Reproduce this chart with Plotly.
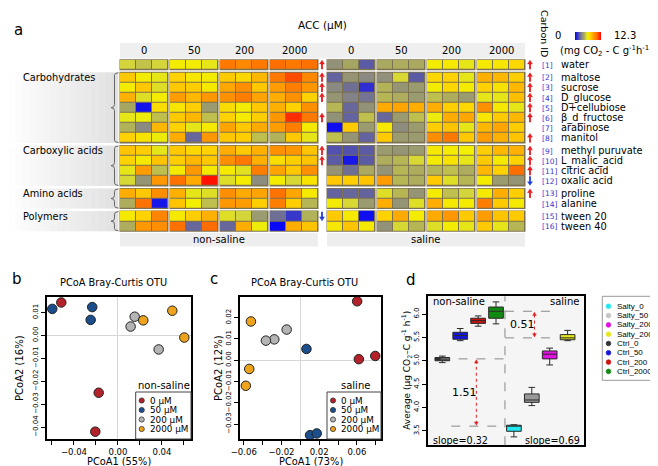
import plotly.graph_objects as go

W, H = 658, 466

# ---------------- data ----------------
acc_levels = ["0", "50", "200", "2000"]
carbon_sources = ["water", "maltose", "sucrose", "D_glucose", "D+cellubiose", "β_d_fructose",
                  "arabinose", "manitol", "methyl puruvate", "L_malic_acid", "citric acid",
                  "oxalic acid", "proline", "alanine", "tween 20", "tween 40"]
source_groups = ["", "Carbohydrates", "Carboxylic acids", "Amino acids", "Polymers"]
group_sizes = [1, 7, 4, 2, 2]

# respiration per carbon source, 4 ACC levels x 3 replicates
nonsaline = [
    [5.3, 4.9, 5.3, 6.3, 6.3, 5.8, 10.0, 9.5, 10.0, 10.3, 10.0, 10.2],
    [7.5, 6.3, 5.8, 7.2, 6.5, 6.3, 7.4, 7.0, 8.0, 10.0, 11.0, 9.5],
    [6.3, 7.5, 5.6, 7.5, 7.3, 6.4, 8.5, 9.3, 7.5, 8.8, 9.8, 9.0],
    [8.2, 5.6, 6.3, 8.8, 8.0, 9.0, 9.2, 9.8, 8.6, 8.3, 9.2, 7.2],
    [4.2, 0.4, 6.8, 6.5, 7.3, 3.8, 6.8, 6.3, 7.5, 8.2, 7.2, 9.2],
    [5.8, 6.0, 4.8, 7.4, 8.0, 4.8, 7.2, 6.3, 7.3, 9.0, 11.5, 10.0],
    [4.5, 3.2, 8.0, 7.2, 5.8, 6.4, 8.6, 7.5, 8.4, 8.8, 9.8, 6.4],
    [7.2, 6.6, 6.0, 8.3, 2.3, 9.0, 7.5, 7.3, 4.8, 4.5, 7.5, 5.8],
    [7.6, 7.3, 5.8, 7.5, 7.0, 7.2, 8.3, 7.5, 8.2, 9.2, 9.0, 7.6],
    [7.2, 6.4, 7.6, 7.3, 8.0, 7.5, 9.3, 10.0, 8.2, 6.8, 7.3, 7.6],
    [5.8, 8.8, 4.8, 6.4, 9.0, 6.4, 6.4, 5.7, 9.8, 8.6, 7.5, 9.2],
    [5.4, 3.6, 9.0, 10.2, 8.4, 12.0, 5.6, 6.3, 3.3, 6.3, 5.4, 6.6],
    [8.3, 7.5, 9.3, 8.2, 5.8, 5.6, 9.3, 8.4, 8.6, 10.2, 8.5, 6.4],
    [4.4, 10.2, 0.5, 7.6, 6.2, 4.8, 9.0, 8.8, 7.3, 9.8, 7.3, 4.6],
    [6.4, 7.2, 9.6, 6.4, 7.3, 8.2, 5.6, 5.3, 3.8, 2.5, 1.2, 4.5],
    [4.4, 9.0, 9.3, 10.2, 2.3, 10.4, 2.3, 8.3, 6.0, 0.2, 8.3, 7.6],
]
saline = [
    [3.5, 4.2, 2.0, 4.3, 4.4, 4.3, 6.3, 6.4, 5.8, 6.4, 6.5, 7.0],
    [2.2, 3.6, 3.2, 3.4, 5.4, 2.0, 7.0, 7.2, 5.8, 8.2, 8.0, 7.3],
    [3.2, 2.5, 1.0, 4.5, 3.6, 3.8, 6.3, 7.0, 6.3, 7.2, 6.6, 8.0],
    [3.6, 3.0, 2.6, 4.6, 4.4, 3.8, 4.8, 4.4, 3.8, 5.8, 5.8, 7.8],
    [4.6, 2.3, 3.5, 8.4, 8.6, 8.3, 8.3, 7.3, 7.0, 9.2, 6.4, 5.8],
    [3.5, 2.2, 4.8, 2.3, 3.8, 4.8, 6.0, 8.3, 8.5, 6.5, 7.4, 8.0],
    [0.3, 7.4, 3.8, 6.4, 3.3, 3.8, 7.3, 7.6, 5.8, 8.0, 8.5, 7.3],
    [4.8, 3.6, 2.2, 7.4, 3.8, 3.8, 9.3, 10.0, 7.5, 8.8, 8.2, 7.6],
    [1.8, 1.8, 2.0, 3.8, 3.6, 3.8, 6.4, 6.3, 6.2, 7.3, 8.0, 8.2],
    [2.0, 0.5, 2.0, 4.4, 4.6, 5.4, 6.3, 6.6, 5.8, 7.4, 6.4, 7.2],
    [3.6, 2.5, 4.3, 3.6, 4.6, 4.4, 4.6, 4.8, 4.4, 8.0, 7.2, 10.3],
    [7.5, 7.3, 7.6, 8.8, 4.6, 4.4, 7.4, 5.6, 4.6, 6.3, 3.8, 3.6],
    [2.2, 2.3, 2.2, 5.6, 4.6, 3.6, 6.3, 4.8, 5.3, 6.4, 8.3, 7.3],
    [6.3, 5.4, 3.8, 8.3, 3.6, 5.6, 8.3, 6.4, 6.3, 9.8, 7.4, 6.4],
    [7.4, 6.4, 0.3, 7.2, 8.4, 6.3, 8.4, 9.0, 7.4, 8.8, 7.6, 7.4],
    [6.5, 7.6, 6.4, 3.5, 5.4, 4.6, 5.6, 6.3, 5.8, 7.4, 5.8, 4.6],
]
# 1 = significant increase, -1 = decrease, 0 = none
trend_nonsaline = [1, 1, 1, 1, 0, 1, 0, 0, 1, 1, 0, 0, 0, 0, -1, 0]
trend_saline = [1, 1, 1, 1, 1, 1, 0, 1, 1, 1, 1, -1, 1, 0, 0, 0]

pcoa_labels = ["0 μM", "50 μM", "200 μM", "2000 μM"]
pcoa_colors = ["#b3222b", "#1b4e8a", "#b4b4b4", "#eea31d"]
nonsal_pc1 = [[-0.0515, -0.0175, -0.0206], [-0.0597, -0.0234, -0.0248],
              [0.0152, 0.0115, 0.037], [0.023, 0.0494, 0.0603]]
nonsal_pc2 = [[0.0144, -0.025, -0.042], [0.0116, 0.0124, 0.0068],
              [0.0082, 0.0039, -0.0061], [0.0066, 0.0108, -0.0009]]
sal_pc1 = [[0.0603, 0.0621, 0.0795], [0.0065, 0.0103, 0.0174],
           [-0.0145, -0.0276, -0.0365], [-0.0524, -0.0542, -0.0578]]
sal_pc2 = [[0.0277, 0.0005, 0.002], [0.0053, -0.0352, -0.0344],
           [0.0144, 0.0098, 0.0092], [0.0182, -0.0041, -0.012]]

box_names = ["Ctrl_0", "Ctrl_50", "Ctrl_200", "Ctrl_2000",
             "Salty_0", "Salty_50", "Salty_200", "Salty_2000"]
box_colors = ["#333333", "#1515d8", "#cc1111", "#118a11",
              "#22e8f0", "#999999", "#e010e0", "#e6e61a"]
legend_dot_colors = {"Salty_50": "#c4c4c4"}
box_low = [4.96, 5.43, 5.74, 5.79, 3.37, 4.04, 4.91, 5.43]
box_q1 = [5.00, 5.46, 5.80, 5.91, 3.49, 4.11, 5.04, 5.45]
box_med = [5.04, 5.54, 5.86, 6.06, 3.60, 4.16, 5.14, 5.49]
box_q3 = [5.07, 5.61, 5.91, 6.15, 3.62, 4.29, 5.21, 5.56]
box_high = [5.10, 5.69, 5.96, 6.26, 3.63, 4.43, 5.27, 5.65]
legend_order = ["Salty_0", "Salty_50", "Salty_200", "Salty_2000",
                "Ctrl_0", "Ctrl_50", "Ctrl_200", "Ctrl_2000"]
gap_labels = ["1.51", "0.51"]
slope_labels = ["slope=0.32", "slope=0.69"]


# ---------------- helpers (pixel -> paper) ----------------
def X(p):
    return p / W


def Y(p):
    return 1 - p / H


FONT = "DejaVu Sans"
shapes, ann = [], []


def text(x, y, s, size=10, xanchor="center", color="black", family=FONT, angle=0):
    ann.append(dict(x=X(x), y=Y(y), xref="paper", yref="paper", text=s, showarrow=False,
                    xanchor=xanchor, yanchor="middle", textangle=angle,
                    font=dict(size=size, color=color, family=family)))


def rect(x0, y0, x1, y1, fill="rgba(0,0,0,0)", line=None, lw=0, layer="below"):
    shapes.append(dict(type="rect", xref="paper", yref="paper", x0=X(x0), x1=X(x1),
                       y0=Y(y1), y1=Y(y0), fillcolor=fill, layer=layer,
                       line=dict(color=line or "rgba(0,0,0,0)", width=lw)))


def dot(cx, cy, r, color, edge="#333333"):
    shapes.append(dict(type="circle", xref="paper", yref="paper", x0=X(cx - r), x1=X(cx + r),
                       y0=Y(cy + r), y1=Y(cy - r), fillcolor=color, layer="above",
                       line=dict(color=edge, width=0.8)))


def arrow_px(x, yc, direction, color):
    """small block arrow centred on (x, yc); direction 1 = up, -1 = down"""
    tip, base, tail = yc - 4.5 * direction, yc - 0.8 * direction, yc + 4.5 * direction
    shapes.append(dict(type="line", xref="paper", yref="paper", x0=X(x), x1=X(x),
                       y0=Y(tail), y1=Y(base), layer="above", line=dict(color=color, width=1.8)))
    shapes.append(dict(type="path", xref="paper", yref="paper", layer="above", fillcolor=color,
                       line=dict(color=color, width=0.5),
                       path="M %f,%f L %f,%f L %f,%f Z" % (X(x - 2.4), Y(base), X(x + 2.4), Y(base),
                                                          X(x), Y(tip))))


fig = go.Figure()

# ---------------- panel a: heatmaps ----------------
HM_LEFT = [112, 319]
HM_TOP = 51.7
CELL_W, COL_GAP = 16, 2
ROW_H, ROW_GAP = 10.1, 2.5


def edges(sizes, cell, gap):
    e, gaps, spans = [0.0], [], []
    for i, n in enumerate(sizes):
        start = e[-1]
        for _ in range(n):
            e.append(e[-1] + cell)
            gaps.append(False)
        spans.append((start, e[-1]))
        if i < len(sizes) - 1:
            e.append(e[-1] + gap)
            gaps.append(True)
    return e, gaps, spans


x_edges, x_gap, x_spans = edges([3] * len(acc_levels), CELL_W, COL_GAP)
y_edges, y_gap, y_spans = edges(group_sizes, ROW_H, ROW_GAP)
TW, TH = x_edges[-1], y_edges[-1]
row_centers = [HM_TOP + (y_edges[i] + y_edges[i + 1]) / 2 for i, g in enumerate(y_gap) if not g]


def brick_matrix(values):
    z, rows = [], iter(values)
    for g in y_gap:
        if g:
            z.append([None] * len(x_gap))
            continue
        row = iter(next(rows))
        z.append([None if c else next(row) for c in x_gap])
    return z


colorscale = [[0.0, "#0000ff"], [0.16, "#5a5aa6"], [0.26, "#8a8a82"], [0.35, "#a9a960"],
              [0.43, "#d4d43c"], [0.50, "#f2f000"], [0.585, "#ffd200"], [0.667, "#ffb000"],
              [0.75, "#ff9000"], [0.85, "#ff6a00"], [1.0, "#ff0000"]]

for k, (vals, left) in enumerate(zip([nonsaline, saline], HM_LEFT)):
    fig.add_trace(go.Heatmap(
        z=brick_matrix(vals), x=x_edges, y=y_edges, xaxis="x" if k == 0 else "x2", yaxis="y",
        colorscale=colorscale, zmin=0, zmax=12.3, xgap=1, ygap=1, hoverinfo="skip",
        showscale=(k == 0),
        colorbar=dict(orientation="h", x=X(580), y=Y(28), xanchor="center", yanchor="middle",
                      len=46, lenmode="pixels", thickness=8, thicknessmode="pixels",
                      showticklabels=False, ticks="", outlinewidth=0)))
    # dark cell borders behind each block
    for xs in x_spans:
        for ys in y_spans:
            rect(left + xs[0] - 0.5, HM_TOP + ys[0] - 0.5, left + xs[1] + 0.5, HM_TOP + ys[1] + 0.5,
                 fill="#7c7250")
    # column labels
    for lvl, xs in zip(acc_levels, x_spans):
        text(left + (xs[0] + xs[1]) / 2, 43, lvl, size=10)
    # bottom band
    rect(left, 225, left + TW, 238.5, fill="#eeeeee")
    text(left + TW / 2, 231.7, ["non-saline", "saline"][k], size=10)
    # trend arrows
    ax_x = left + TW + (4 if k == 0 else 5)
    for tr, yc in zip([trend_nonsaline, trend_saline][k], row_centers):
        if tr:
            arrow_px(ax_x, yc, tr, "#e41a1c" if tr > 0 else "#1f3fd6")

# top band with ACC levels
rect(112, 35, HM_LEFT[1] + TW, 50.5, fill="#efefef")
text(314, 17, "ACC (μM)", size=10.5)
text(10, 22, "a", size=15)

# row labels on the right
for i, (name, yc) in enumerate(zip(carbon_sources, row_centers)):
    text(532, yc + 0.5, "[%d]" % (i + 1), size=7.5, xanchor="left", color="#3535d0")
    text(551, yc, name, size=9.8, xanchor="left")

text(536, 25, "Carbon ID", size=9.5, angle=90)
text(555, 28, "0", size=10, xanchor="right")
text(604, 28, "12.3", size=10, xanchor="left")
text(550, 43, "(mg CO<sub>2</sub> - C g<sup>-1</sup>h<sup>-1</sup>)", size=10, xanchor="left")

# group bands with braces
for gi, (gname, ys) in enumerate(zip(source_groups, y_spans)):
    if not gname:
        continue
    y0, y1 = HM_TOP + ys[0], HM_TOP + ys[1]
    n = 16
    for s in range(n):
        c = int(255 - 30 * (s + 0.5) / n)
        rect(110 * s / n, y0, 110 * (s + 1) / n + 0.3, y1, fill="rgb(%d,%d,%d)" % (c, c, c))
    text(13, HM_TOP + ys[0] + ROW_H / 2, gname, size=9.8, xanchor="left")
    xa, xm, xt, r = 110.5, 106.5, 103, 3
    ym = (y0 + y1) / 2
    pts = "M %f,%f Q %f,%f %f,%f L %f,%f Q %f,%f %f,%f Q %f,%f %f,%f L %f,%f Q %f,%f %f,%f" % (
        X(xa), Y(y0 + 0.5), X(xm), Y(y0 + 0.5), X(xm), Y(y0 + r),
        X(xm), Y(ym - r), X(xm), Y(ym), X(xt), Y(ym),
        X(xm), Y(ym), X(xm), Y(ym + r),
        X(xm), Y(y1 - r), X(xm), Y(y1 - 0.5), X(xa), Y(y1 - 0.5))
    shapes.append(dict(type="path", xref="paper", yref="paper", path=pts, layer="above",
                       line=dict(color="#666666", width=1)))

# ---------------- panels b, c: PCoA ----------------
pcoa_panels = [
    dict(xa="x3", ya="y3", box=(39, 289, 183, 431), xr=[-0.0645, 0.0664], yr=[-0.0452, 0.0168],
         pc1=nonsal_pc1, pc2=nonsal_pc2, xv=[-0.04, 0, 0.04], xminor=[-0.06, -0.02, 0.02, 0.06],
         yv=[-0.04, -0.03, -0.02, -0.01, 0, 0.01],
         xtitle="PCoA1 (55%)", ytitle="PCoA2 (16%)", tag="non-saline", leg=127.7, letter="b",
         lx=9, tx=105, ytx=11),
    dict(xa="x4", ya="y4", box=(232, 289, 373, 431), xr=[-0.064, 0.0856], yr=[-0.037, 0.0297],
         pc1=sal_pc1, pc2=sal_pc2, xv=[-0.06, -0.02, 0.02, 0.06], xminor=[-0.04, 0, 0.04, 0.08],
         yv=[-0.03, -0.02, -0.01, 0, 0.01, 0.02],
         xtitle="PCoA1 (73%)", ytitle="PCoA2 (12%)", tag="saline", leg=319, letter="c",
         lx=206, tx=296, ytx=210),
]

axis_style = dict(showline=True, mirror=True, linecolor="black", linewidth=1.6, ticks="outside",
                  ticklen=4, tickwidth=1, tickcolor="black", showgrid=False, automargin=False,
                  tickfont=dict(size=7, family=FONT, color="black"))
layout_axes = {}
for p in pcoa_panels:
    x0, y0, x1, y1 = p["box"]
    rect(x0, y0, x1, y1, fill="white")
    for lab, col, xs, ys in zip(pcoa_labels, pcoa_colors, p["pc1"], p["pc2"]):
        fig.add_trace(go.Scatter(x=xs, y=ys, mode="markers", xaxis=p["xa"], yaxis=p["ya"],
                                 showlegend=False, hoverinfo="skip", name=lab,
                                 marker=dict(size=9.5, color=col, line=dict(color="#222222", width=1))))
    layout_axes["xaxis" + p["xa"][1:]] = dict(
        axis_style, domain=[X(x0), X(x1)], range=p["xr"], anchor=p["ya"], tickvals=p["xv"],
        tickformat=".2f", zeroline=True, zerolinecolor="#d6d6d6", zerolinewidth=1,
        minor=dict(tickvals=p["xminor"], ticks="outside", ticklen=4, tickwidth=1,
                   tickcolor="black", showgrid=False),
        tickfont=dict(size=8.5, family=FONT, color="black"))
    layout_axes["yaxis" + p["ya"][1:]] = dict(
        axis_style, domain=[Y(y1), Y(y0)], range=p["yr"], anchor=p["xa"], tickvals=p["yv"],
        tickformat=".2f", tickangle=-90, zeroline=True, zerolinecolor="#d6d6d6", zerolinewidth=1)
    text((x0 + x1) / 2, 453.5, p["xtitle"], size=9.8)
    text(p["ytx"], (y0 + y1) / 2, p["ytitle"], size=10, angle=-90)
    # inset legend
    lx = p["leg"]
    rect(lx, 384, x1, y1, fill="white", line="#444444", lw=1, layer="above")
    text((lx + x1) / 2 + 1, 377, p["tag"], size=10)
    for i, (lab, col) in enumerate(zip(pcoa_labels, pcoa_colors)):
        yy = 392.5 + i * 9.5
        dot(lx + 6, yy, 2.6, col)
        text(lx + 12, yy, lab, size=8.8, xanchor="left")
    text(p["lx"], 271, p["letter"], size=15)
    text(p["tx"], 274, "PCoA Bray-Curtis OTU", size=9.8)

# ---------------- panel d: boxplots ----------------
DX0, DY0, DX1, DY1 = 420, 288.3, 575.7, 437.3
rect(DX0, DY0, DX1, DY1, fill="#f5f5f5")
for i, name in enumerate(box_names):
    fig.add_trace(go.Box(
        x=[i + 1], q1=[box_q1[i]], median=[box_med[i]], q3=[box_q3[i]],
        lowerfence=[box_low[i]], upperfence=[box_high[i]], name=name,
        xaxis="x5", yaxis="y5", width=0.82, whiskerwidth=0.45, fillcolor=box_colors[i],
        line=dict(color="#2a2a2a", width=1), showlegend=False, hoverinfo="skip",
        boxpoints=False))

layout_axes["xaxis5"] = dict(axis_style, domain=[X(DX0), X(DX1)], range=[0.2, 8.9], anchor="y5",
                             showticklabels=False, ticks="", zeroline=False)
layout_axes["yaxis5"] = dict(axis_style, domain=[Y(DY1), Y(DY0)], range=[3.19, 6.38], anchor="x5",
                             tickvals=[3.5, 4.0, 4.5, 5.0, 5.5, 6.0], tickformat=".1f",
                             tickangle=-90, zeroline=False)
text(399, (DY0 + DY1) / 2, "Average (μg CO<sub>2</sub>–C g<sup>-1</sup> h<sup>-1</sup>)",
     size=9, angle=-90)

mid = len(box_names) / 2 + 0.5
half = len(box_names) // 2


def dline(x0, x1, y0, y1, color="#888888", dash="dash", width=1, yref="y5"):
    shapes.append(dict(type="line", xref="x5", yref=yref, x0=x0, x1=x1, y0=y0, y1=y1,
                       layer="above", line=dict(color=color, width=width, dash=dash)))


def head(x, tip, d, color="#e02020"):
    # small triangle in data units of panel d, pointing along d (+1 up / -1 down)
    base = tip - 0.07 * d
    shapes.append(dict(type="path", xref="x5", yref="y5", layer="above", fillcolor=color,
                       line=dict(color=color, width=0.5),
                       path="M %f,%f L %f,%f L %f,%f Z" % (x - 0.1, base, x + 0.1, base, x, tip)))


dline(mid, mid, 0, 1, yref="y5 domain")
# non-saline vs saline at 0 and at 2000 uM
pairs = [(0, half, 0.9, mid, 2.9, 2.25), (half - 1, len(box_names) - 1, mid, 7.5, 6.15, 5.5)]
for (ci, si, lx0, lx1, arrow_x, lab_x), lab in zip(pairs, gap_labels):
    hi, lo = max(box_med[ci], box_med[si]), min(box_med[ci], box_med[si])
    dline(lx0 if ci == 0 else mid, lx1, box_med[ci], box_med[ci])
    dline(lx0 + (0.6 if ci == 0 else 0), lx1, box_med[si], box_med[si])
    dline(arrow_x, arrow_x, lo + 0.05, hi - 0.05, color="#e02020", dash="dot")
    head(arrow_x, hi - 0.02, 1)
    head(arrow_x, lo + 0.02, -1)
    ann.append(dict(x=lab_x, y=(hi + lo) / 2, xref="x5", yref="y5", text=lab, showarrow=False,
                    font=dict(size=11, family=FONT, color="black")))

text(423, 293.5, "non-saline", size=10, xanchor="left")
text(573, 293.5, "saline", size=10, xanchor="right")
text(423, 432, slope_labels[0], size=9.6, xanchor="left")
text(573.5, 432, slope_labels[1], size=9.6, xanchor="right")
text(403, 272, "d", size=15)

# custom legend for panel d
rect(594.3, 288.3, 657.5, 372.3, fill="white", line="#999999", lw=1, layer="above")
for i, name in enumerate(legend_order):
    col = legend_dot_colors.get(name, box_colors[box_names.index(name)])
    yy = 298.3 + i * 9.3
    dot(600.5, yy, 2.3, col, edge=col)
    text(606.5, yy, name, size=8, xanchor="left", family="Liberation Sans, Arial, sans-serif")

fig.update_layout(
    width=W, height=H, margin=dict(l=0, r=0, t=0, b=0), autosize=False,
    paper_bgcolor="white", plot_bgcolor="rgba(0,0,0,0)", showlegend=False,
    xaxis=dict(domain=[X(HM_LEFT[0]), X(HM_LEFT[0] + TW)], range=[0, TW], visible=False, anchor="y"),
    xaxis2=dict(domain=[X(HM_LEFT[1]), X(HM_LEFT[1] + TW)], range=[0, TW], visible=False, anchor="y"),
    yaxis=dict(domain=[Y(HM_TOP + TH), Y(HM_TOP)], range=[TH, 0], visible=False, anchor="x"),
    shapes=shapes, annotations=ann, font=dict(family=FONT),
    **layout_axes)

fig.write_html("out.html")
